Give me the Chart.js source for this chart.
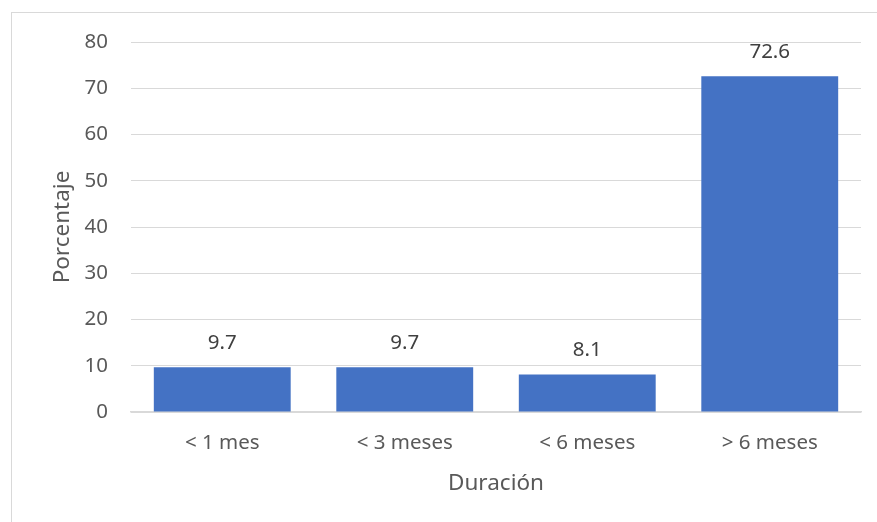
<!DOCTYPE html>
<html>
<head>
<meta charset="utf-8">
<script src="https://cdn.jsdelivr.net/npm/chart.js@4"></script>
<style>
  html, body { margin: 0; padding: 0; background: #fff; }
  #wrap { position: relative; width: 877px; height: 522px; }
</style>
</head>
<body>
<div id="wrap"><canvas id="chart-duracion"></canvas></div>
<script>
// Duración de la situación – porcentaje por tramo

const categorias = ['< 1 mes', '< 3 meses', '< 6 meses', '> 6 meses'];
const porcentajes = [9.7, 9.7, 8.1, 72.6];
const ejeY = { min: 0, max: 80, paso: 10 };

const FONT = '"Noto Sans", "Open Sans", sans-serif';
const GRID = '#d9d9d9';

// marco exterior del gráfico
const marco = {
    id: 'marco',
    beforeDraw(chart) {
        const c = chart.ctx;
        c.save();
        c.strokeStyle = GRID;
        c.lineWidth = 1;
        c.strokeRect(11.5, 12.5, chart.width + 20, chart.height + 20);
        c.restore();
    }
};

// etiquetas de valor encima de cada barra
const etiquetas = {
    id: 'etiquetas',
    afterDatasetsDraw(chart) {
        const c = chart.ctx;
        const meta = chart.getDatasetMeta(0);
        c.save();
        c.font = '20.5px ' + FONT;
        c.fillStyle = '#404040';
        c.textAlign = 'center';
        c.textBaseline = 'middle';
        meta.data.forEach((bar, i) => {
            c.fillText(porcentajes[i].toFixed(1), bar.x, bar.y - 24);
        });
        c.restore();
    }
};

new Chart(document.getElementById('chart-duracion').getContext('2d'), {
    type: 'bar',
    data: {
        labels: categorias,
        datasets: [{
            data: porcentajes,
            backgroundColor: '#4472c4',
            borderWidth: 0,
            barPercentage: 0.75,
            categoryPercentage: 1.0,
        }]
    },
    options: {
        responsive: true,
        maintainAspectRatio: false,
        animation: false,
        layout: {
            padding: { top: 42, right: 16, left: 40, bottom: 0 }
        },
        plugins: {
            legend: { display: false },
            tooltip: { enabled: false }
        },
        scales: {
            x: {
                grid: { display: false, drawTicks: false },
                border: { color: GRID, width: 1.5 },
                ticks: {
                    color: '#595959',
                    font: { family: FONT, size: 20.5 },
                    padding: 19,
                },
                title: {
                    display: true,
                    text: 'Duración',
                    color: '#595959',
                    font: { family: FONT, size: 22.5 },
                    padding: { top: 4, bottom: 25 }
                },
                afterFit(scale) { scale.height = 110; }
            },
            y: {
                min: ejeY.min,
                max: ejeY.max,
                grid: { color: GRID, lineWidth: 1, drawTicks: false },
                border: { display: false },
                ticks: {
                    stepSize: ejeY.paso,
                    color: '#595959',
                    font: { family: FONT, size: 20.5 },
                    padding: 23,
                },
                title: {
                    display: true,
                    text: 'Porcentaje',
                    color: '#595959',
                    font: { family: FONT, size: 22.5 },
                    padding: { top: 9.5, bottom: 0 }
                },
                afterFit(scale) { scale.width = 91; }
            }
        }
    },
    plugins: [marco, etiquetas]
});
</script>
</body>
</html>
